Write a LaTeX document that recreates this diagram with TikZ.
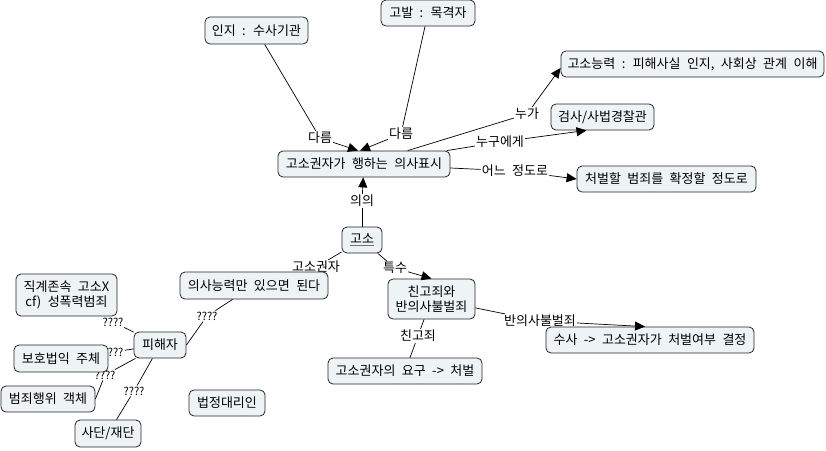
\documentclass[tikz,border=0pt]{standalone}
\usepackage{fontspec}
\setmainfont[WordSpace=2.2]{Noto Sans CJK KR}
\usetikzlibrary{arrows.meta}
\definecolor{cfill}{HTML}{EEF3F6}
\tikzset{
  concept/.style={draw=black!85, line width=0.8pt, fill=cfill, rounded corners=5pt,
    inner xsep=4pt, inner ysep=2pt, minimum height=26pt, align=center,
    font=\fontsize{13}{14}\selectfont},
  lbl/.style={inner sep=1pt, font=\fontsize{13}{14}\selectfont},
  qlbl/.style={inner sep=1pt, font=\fontsize{11}{12}\selectfont},
  conn/.style={line width=0.7pt, black},
  arr/.style={conn, -{Triangle[length=10pt,width=9pt]}},
}
\begin{document}
\begin{tikzpicture}[x=1pt,y=-1pt]
\useasboundingbox (0,0) rectangle (826,450);
\fill[white] (0,0) rectangle (826,450);

% labels (drawn first so boxes can overlap them)
\node[lbl] (l1) at (320,138) {다름};
\node[lbl] (l2) at (401,134) {다름};
\node[lbl] (l3) at (527,114) {누가};
\node[lbl] (l4) at (500,142) {누구에게};
\node[lbl] (l5) at (515,171) {어느 정도로};
\node[lbl] (l6) at (362,201) {의의};
\node[lbl] (l7) at (316,267) {고소권자};
\node[lbl] (l8) at (395,268) {특수};
\node[lbl] (l9) at (540,321) {반의사불벌죄};
\node[lbl] (l10) at (418,336) {친고죄};
\node[qlbl] (q1) at (113,322) {????};
\node[qlbl] (q2) at (113,352) {????};
\node[qlbl] (q3) at (105,375) {????};
\node[qlbl] (q4) at (134,391) {????};
\node[qlbl] (q5) at (207,316) {????};

% concepts
\node[concept, minimum width=103pt, minimum height=27pt] (inji) at (256.5,30.5) {인지 : 수사기관};
\node[concept, minimum width=94pt] (gobal) at (428,13) {고발 : 목격자};
\node[concept, minimum width=172pt] (main) at (364,164) {고소권자가 행하는 의사표시};
\node[concept, minimum width=263pt] (ability) at (692.5,64) {고소능력 : 피해사실 인지, 사회상 관계 이해};
\node[concept, minimum width=103pt] (police) at (602.5,117) {검사/사법경찰관};
\node[concept, minimum width=179pt] (degree) at (666.5,179) {처벌할 범죄를 확정할 정도로};
\node[concept, minimum width=40pt] (goso) at (362,240) {\textcolor{black!55}{\underline{\textcolor{black}{고소}}}};
\node[concept, minimum width=87pt, minimum height=40pt, font=\fontsize{13}{15}\selectfont] (special) at (431.5,299) {친고죄와\\반의사불벌죄};
\node[concept, minimum width=208pt] (suspect) at (650,340) {수사 -> 고소권자가 처벌여부 결정};
\node[concept, minimum width=154pt] (demand) at (405,371) {고소권자의 요구 -> 처벌};
\node[concept, minimum width=148pt, minimum height=27pt] (capacity) at (254,285.5) {의사능력만 있으면 된다};
\node[concept, minimum width=101pt, minimum height=42pt, font=\fontsize{13}{15}\selectfont] (lineal) at (66.5,295) {직계존속 고소X\\cf) 성폭력범죄};
\node[concept, minimum width=52pt] (victim) at (160,345) {피해자};
\node[concept, minimum width=94pt, minimum height=27pt] (protect) at (61,358.5) {보호법익 주체};
\node[concept, minimum width=94pt] (object) at (48,399) {범죄행위 객체};
\node[concept, minimum width=66pt, minimum height=27pt] (corp) at (108,433.5) {사단/재단};
\node[concept, minimum width=76pt] (legal) at (227,403) {법정대리인};

% connectors
\draw[conn] (inji) -- (l1);
\draw[arr] (l1) -- ([xshift=-6pt]main.north);
\draw[conn] (gobal) -- (l2);
\draw[arr] (l2) -- ([xshift=-4pt]main.north);
\draw[conn] (main) -- (l3);
\draw[arr] (l3) -- ([yshift=-4pt]ability.west);
\draw[conn] (main) -- (l4);
\draw[arr] (l4) -- ([xshift=-16pt]police.south);
\draw[conn] (main) -- (l5);
\draw[arr] (l5) -- (degree.west);
\draw[conn] (goso) -- (l6);
\draw[arr] (l6) -- (main);
\draw[conn] (goso) -- (l7);
\draw[conn] (goso) -- (l8);
\draw[arr] (l8) -- (special.north);
\draw[conn] (special) -- (l9);
\draw[arr] (l9) -- ([xshift=-5pt]suspect.north);
\draw[conn] (special) -- (l10);
\draw[conn] (l10) -- (demand);
\draw[conn] (victim) -- (q1);
\draw[conn] (victim) -- (q2);
\draw[conn] (victim) -- (q3);
\draw[conn] (q3) -- (object.east);
\draw[conn] (victim) -- (q4);
\draw[conn] (q4) -- (corp);
\draw[conn] (victim.east) -- (q5);
\draw[conn] (q5) -- (capacity);
\end{tikzpicture}
\end{document}
